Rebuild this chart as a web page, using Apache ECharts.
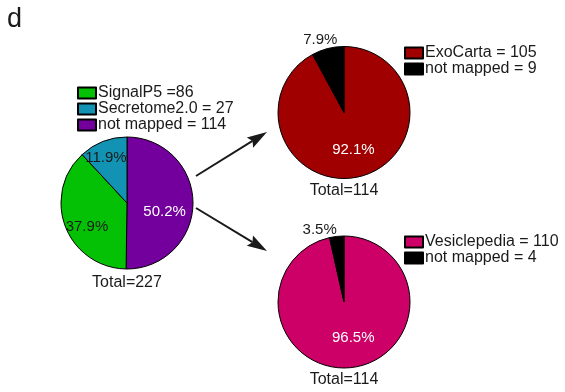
<!DOCTYPE html>
<html>
<head>
<meta charset="utf-8">
<script src="https://cdn.jsdelivr.net/npm/echarts@6/dist/echarts.min.js"></script>
<style>
  html, body { margin: 0; padding: 0; background: #ffffff; }
  #chart { width: 565px; height: 392px; }
</style>
</head>
<body>
<div id="chart"></div>
<script>
// Secreted protein candidates, and how the unmapped part maps onto two vesicle databases
const secretedLabels = ['not mapped = ', 'SignalP5 =', 'Secretome2.0 = '];
const secretedValues = [114, 86, 27];
const exoLabels = ['ExoCarta = ', 'not mapped = '];
const exoValues = [105, 9];
const vesLabels = ['Vesiclepedia = ', 'not mapped = '];
const vesValues = [110, 4];
const totalPrefix = 'Total=';
const panelLetter = 'd';

const FONT = '"Liberation Sans", Arial, sans-serif';
const INK = '#1a1a1a';
const RADIUS = 66;

// Per-pie look: centre, slice colours, label colours, label radius factor and small label nudges
const pies = [
  {
    labels: secretedLabels, values: secretedValues, center: [127, 203],
    colors: ['#73009c', '#05c105', '#1393b3'],
    labelColors: ['#ffffff', INK, INK],
    labelK: [0.6, 0.65, 0.75], nudge: [[-2, 9], [0, 8], [-3, 1]],
    legend: { left: 77, top: 85, order: [1, 2, 0] }, totalY: 283
  },
  {
    labels: exoLabels, values: exoValues, center: [344, 112.5],
    colors: ['#a00000', '#000000'],
    labelColors: ['#ffffff', INK],
    labelK: [0.58, 1.15], nudge: [[0, 0], [-5, 1]],
    legend: { left: 404, top: 45, order: [0, 1] }, totalY: 191
  },
  {
    labels: vesLabels, values: vesValues, center: [344, 302],
    colors: ['#cc0066', '#000000'],
    labelColors: ['#ffffff', INK],
    labelK: [0.58, 1.15], nudge: [[5, -2], [-16, 3]],
    legend: { left: 404, top: 234, order: [0, 1] }, totalY: 380
  }
];

// Label anchor for each slice, from the slice's mid angle (clockwise from 12 o'clock)
const labelPos = pies.map(p => {
  const total = p.values.reduce((a, b) => a + b, 0);
  let acc = 0;
  return p.values.map((v, i) => {
    const mid = (acc + v / 2) / total * 2 * Math.PI;
    acc += v;
    const k = p.labelK[i] * RADIUS;
    return [
      p.center[0] + k * Math.sin(mid) + p.nudge[i][0],
      p.center[1] - k * Math.cos(mid) + p.nudge[i][1]
    ];
  });
});

const series = pies.map((p, si) => ({
  type: 'pie',
  center: p.center,
  radius: RADIUS,
  startAngle: 90,
  clockwise: true,
  percentPrecision: 1,
  avoidLabelOverlap: false,
  silent: true,
  emphasis: { disabled: true },
  itemStyle: { borderColor: '#000000', borderWidth: 1 },
  label: {
    show: true, position: 'inside', formatter: '{d}%',
    fontFamily: FONT, fontSize: 15
  },
  labelLine: { show: false },
  labelLayout: params => {
    const pos = labelPos[si][params.dataIndex];
    return { x: pos[0], y: pos[1], align: 'center', verticalAlign: 'middle' };
  },
  data: p.values.map((v, i) => ({
    name: p.labels[i] + v,
    value: v,
    itemStyle: { color: p.colors[i] },
    label: { color: p.labelColors[i] }
  }))
}));

const legends = pies.map(p => ({
  orient: 'vertical',
  left: p.legend.left,
  top: p.legend.top,
  padding: 0,
  itemWidth: 18,
  itemHeight: 11,
  itemGap: 0,
  icon: 'rect',
  selectedMode: false,
  textStyle: { fontFamily: FONT, fontSize: 16, color: INK, lineHeight: 15, padding: [0, 0, 0, -3] },
  data: p.legend.order.map(i => p.labels[i] + p.values[i])
}));

// Totals under each pie
const graphics = pies.map(p => ({
  type: 'text',
  x: p.center[0],
  y: p.totalY,
  style: {
    text: totalPrefix + p.values.reduce((a, b) => a + b, 0),
    font: '16px ' + FONT,
    fill: INK,
    align: 'center', verticalAlign: 'middle',
    textAlign: 'center', textVerticalAlign: 'middle'
  }
}));

graphics.push({
  type: 'text', x: 7, y: 20,
  style: {
    text: panelLetter, font: '27px ' + FONT, fill: INK,
    align: 'left', verticalAlign: 'middle',
    textAlign: 'left', textVerticalAlign: 'middle'
  }
});

// Arrows from the first pie towards the two database pies
const arrows = [
  { from: [196, 176], to: [267, 132] },
  { from: [196, 208], to: [267, 251] }
];
arrows.forEach(a => {
  const dx = a.to[0] - a.from[0], dy = a.to[1] - a.from[1];
  const len = Math.hypot(dx, dy);
  const ux = dx / len, uy = dy / len, nx = -uy, ny = ux;
  const headLen = 20, headHalf = 6, notch = 3;
  const bx = a.to[0] - ux * headLen, by = a.to[1] - uy * headLen;
  graphics.push({
    type: 'line',
    shape: { x1: a.from[0], y1: a.from[1], x2: bx + ux * notch, y2: by + uy * notch },
    style: { stroke: INK, lineWidth: 2 }
  });
  graphics.push({
    type: 'polygon',
    shape: {
      points: [
        [a.to[0], a.to[1]],
        [bx + nx * headHalf, by + ny * headHalf],
        [bx + ux * notch, by + uy * notch],
        [bx - nx * headHalf, by - ny * headHalf]
      ]
    },
    style: { fill: INK }
  });
});

const chart = echarts.init(document.getElementById('chart'), null, { renderer: 'canvas' });
chart.setOption({
  animation: false,
  backgroundColor: '#ffffff',
  legend: legends,
  series: series,
  graphic: graphics
});
</script>
</body>
</html>
